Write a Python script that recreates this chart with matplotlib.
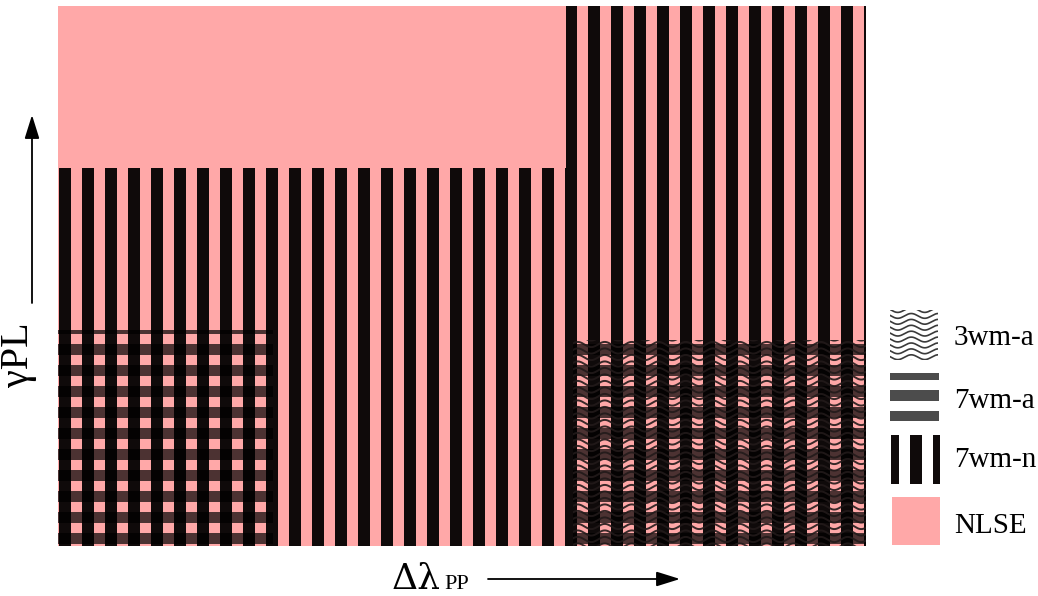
import numpy as np
import matplotlib
matplotlib.use('Agg')
import matplotlib.pyplot as plt
from matplotlib.patches import Rectangle

plt.rcParams['font.family'] = ['Liberation Serif', 'DejaVu Serif']

# ---------------- data ----------------
regimes = ['3wm-a', '7wm-a', '7wm-n', 'NLSE']
# regime regions in normalised (Δλ_PP, γPL) space: (x0, x1, y0, y1)
nlse_regions = [(0.0, 1.0, 0.0, 1.0)]
wm7n_regions = [(0.0, 1.0, 0.0, 0.70), (0.629, 1.0, 0.70, 1.0)]
wm7a_regions = [(0.0, 0.266, 0.0, 0.40), (0.637, 1.0, 0.0, 0.381)]
wm3a_regions = [(0.637, 1.0, 0.0, 0.381)]
x_label = 'Δλ'
x_label_sub = 'PP'
y_label = 'γPL'

# ---------------- style ----------------
PINK = '#ffa8a8'
BLACK = '#0f0a0a'
W, H = 1038, 596
AX_L, AX_T, AX_R, AX_B = 58, 6, 866, 546
AXW, AXH = AX_R - AX_L, AX_B - AX_T

# stripe geometry (pixels -> axes fraction)
VP, VW, VO = 23 / AXW, 12 / AXW, 1 / AXW        # vertical stripes
HP, HW, HO = 21 / AXH, 11 / AXH, 2 / AXH        # horizontal bands
WAVE_SP, WAVE_A, WAVE_L = 6.5 / AXH, 2.6 / AXH, 27 / AXW

fig = plt.figure(figsize=(W / 100, H / 100), dpi=100)
ax = fig.add_axes([AX_L / W, (H - AX_B) / H, AXW / W, AXH / H])
ax.set_xlim(0, 1)
ax.set_ylim(0, 1)
ax.axis('off')


def vstripes(axis, x0, x1, y0, y1, period, width, off, **kw):
    starts = np.arange(off - period, x1 + period, period)
    lefts = np.clip(starts, x0, x1)
    rights = np.clip(starts + width, x0, x1)
    keep = rights > lefts
    axis.bar(lefts[keep], y1 - y0, width=(rights - lefts)[keep], bottom=y0,
             align='edge', linewidth=0, **kw)


def hbands(axis, x0, x1, y0, y1, period, width, off, **kw):
    starts = np.arange(off - period, y1 + period, period)
    bots = np.clip(starts, y0, y1)
    tops = np.clip(starts + width, y0, y1)
    keep = tops > bots
    axis.barh(bots[keep], x1 - x0, height=(tops - bots)[keep], left=x0,
              align='edge', linewidth=0, **kw)


def waves(axis, x0, x1, y0, y1, sp, amp, lam, **kw):
    clip = Rectangle((x0, y0), x1 - x0, y1 - y0, transform=axis.transData,
                     facecolor='none', edgecolor='none')
    axis.add_patch(clip)
    xs = np.linspace(x0, x1, 600)
    for base in np.arange(y0 - sp, y1 + sp, sp):
        line, = axis.plot(xs, base + amp * np.sin(2 * np.pi * xs / lam), **kw)
        line.set_clip_path(clip)


for (x0, x1, y0, y1) in nlse_regions:
    ax.add_patch(Rectangle((x0, y0), x1 - x0, y1 - y0, facecolor=PINK,
                           edgecolor='none'))
for (x0, x1, y0, y1) in wm7n_regions:
    vstripes(ax, x0, x1, y0, y1, VP, VW, VO, color=BLACK)
for (x0, x1, y0, y1) in wm7a_regions:
    hbands(ax, x0, x1, y0, y1, HP, HW, HO, color='black', alpha=0.7)
for (x0, x1, y0, y1) in wm3a_regions:
    waves(ax, x0, x1, y0, y1, WAVE_SP, WAVE_A, WAVE_L, color='#221a1a',
          lw=1.4, alpha=0.9)

# ---------------- annotation layer (pixel coords) ----------------
ann = fig.add_axes([0, 0, 1, 1])
ann.set_xlim(0, W)
ann.set_ylim(H, 0)
ann.axis('off')

arrow = dict(arrowstyle='-|>,head_length=0.8,head_width=0.25', lw=1.3,
             color='black', mutation_scale=18, shrinkA=0, shrinkB=0)
ann.annotate('', xy=(32, 115), xytext=(32, 303), arrowprops=arrow)
ann.annotate('', xy=(680, 579), xytext=(488, 579), arrowprops=arrow)

ann.text(37, 355, y_label, rotation=90, fontsize=29, ha='right', va='center')
ann.text(392, 589, x_label, fontsize=26, ha='left', va='baseline',
         family=['DejaVu Serif'])
ann.text(444, 589, x_label_sub, fontsize=16, ha='left', va='baseline')

# legend
leg_boxes = {'3wm-a': (890, 938, 310, 360), '7wm-a': (890, 939, 373, 421),
             '7wm-n': (891, 940, 435, 484), 'NLSE': (892, 940, 497, 545)}
leg_base = {'3wm-a': 345, '7wm-a': 408, '7wm-n': 467, 'NLSE': 533}
for name in regimes:
    x0, x1, t, b = leg_boxes[name]
    if name == 'NLSE':
        ann.add_patch(Rectangle((x0, t), x1 - x0, b - t, facecolor=PINK,
                                edgecolor='none'))
    elif name == '7wm-n':
        vstripes(ann, x0, x1, t, b, 23, 12, 887, color=BLACK)
    elif name == '7wm-a':
        hbands(ann, x0, x1, t, b, 21, 11, 369, color='black', alpha=0.7)
    else:
        waves(ann, x0, x1, t, b, 5.9, 2.4, 27, color='#3a3a3a', lw=1.2)
    ann.text(954, leg_base[name], name, fontsize=21, ha='left', va='baseline')

fig.savefig('out.png', dpi=100)
